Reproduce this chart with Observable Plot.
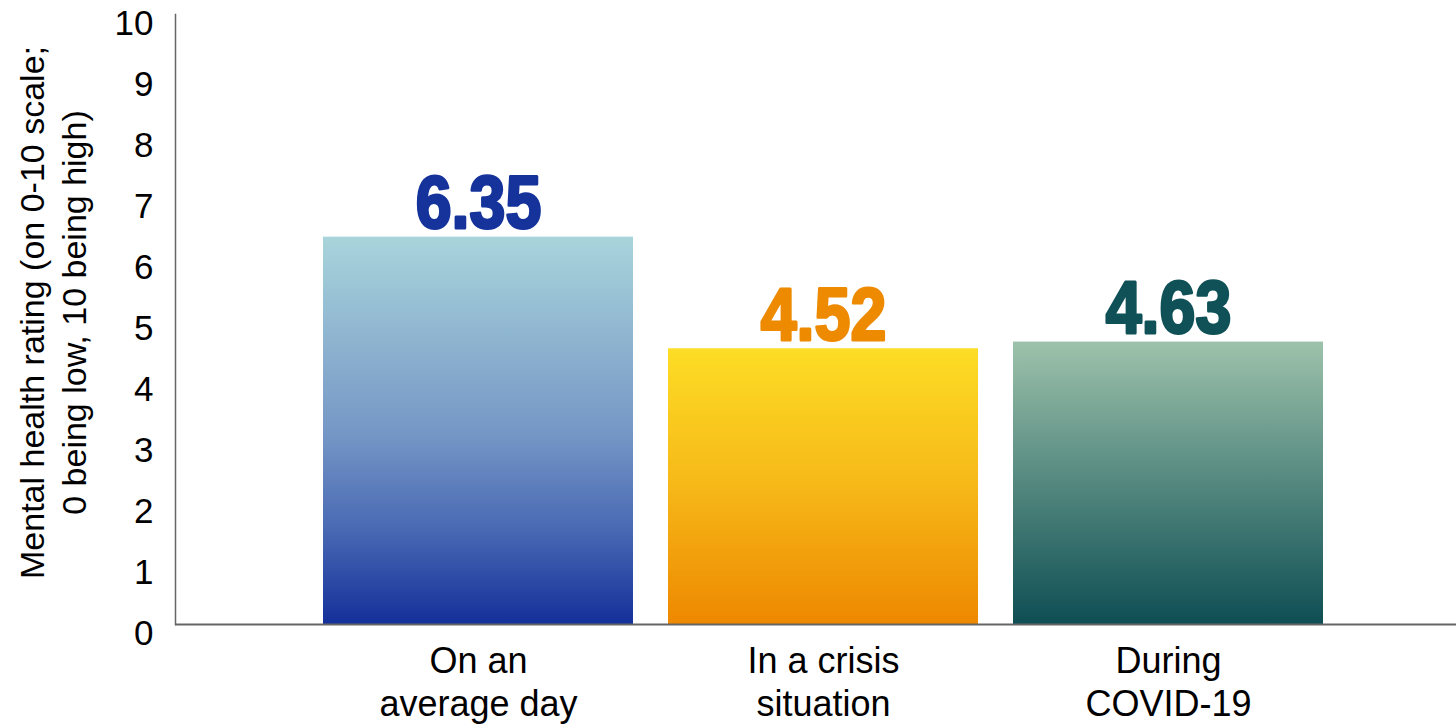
<!DOCTYPE html>
<html>
<head>
<meta charset="utf-8">
<script src="https://cdn.jsdelivr.net/npm/d3@7"></script>
<script src="https://cdn.jsdelivr.net/npm/@observablehq/plot@0.6"></script>
<style>
  html, body { margin: 0; padding: 0; background: #fff; }
</style>
</head>
<body>
<div id="chart"></div>
<script>
// ---- data ----
const categories = ["On an\naverage day", "In a crisis\nsituation", "During\nCOVID-19"];
const values = [6.35, 4.52, 4.63];
const labelColors = ["#15339b", "#ee8a00", "#0f5157"];
const gradientStops = [
  [[0, "#a9d4db"], [0.5, "#7698c6"], [0.75, "#4a6ab4"], [1, "#14309a"]],
  [[0, "#fddd25"], [0.5, "#f6b818"], [1, "#ee8800"]],
  [[0, "#9dc2ab"], [0.5, "#54887f"], [1, "#0e4e54"]]
];
const yTicks = [0, 1, 2, 3, 4, 5, 6, 7, 8, 9, 10];
const yTitle = "Mental health rating (on 0-10 scale;\n0 being low, 10 being high)";

const data = categories.map((c, i) => ({
  category: c,
  value: values[i],
  fill: `url(#barGrad${i})`,
  color: labelColors[i]
}));

// gradient definitions
const defs = () => {
  const d = d3.create("svg:defs");
  gradientStops.forEach((stops, i) => {
    const g = d.append("linearGradient")
      .attr("id", `barGrad${i}`)
      .attr("x1", 0).attr("y1", 0).attr("x2", 0).attr("y2", 1);
    stops.forEach(([o, c]) => g.append("stop").attr("offset", o).attr("stop-color", c));
  });
  return d.node();
};

const chart = Plot.plot({
  width: 1456,
  height: 725,
  marginLeft: 175,
  marginRight: 0,
  marginTop: 14,
  marginBottom: 101,
  style: { fontFamily: "'Liberation Sans', Arial, sans-serif", background: "#fff", color: "#000", overflow: "visible" },
  x: { domain: categories, range: [322, 1324], paddingInner: 0.1013, paddingOuter: 0, axis: null },
  y: { domain: [0, 10], axis: null },
  color: { type: "identity" },
  marks: [
    defs,
    Plot.barY(data, { x: "category", y: "value", fill: "fill" }),
    Plot.ruleY([0], { stroke: "#666", strokeWidth: 2 }),
    Plot.frame({ anchor: "left", stroke: "#666", strokeWidth: 1.5 }),
    Plot.axisY({ ticks: yTicks, tickSize: 0, tickPadding: 22, fontSize: 35, dy: 9, tickFormat: d => String(d), fill: "#000", label: null }),
    Plot.text(data, { x: "category", frameAnchor: "bottom", text: "category", lineAnchor: "top", dy: 18, fontSize: 36, lineHeight: 1.2, fill: "#000" }),
    Plot.text(data, {
      x: "category", y: "value", text: d => d.value.toFixed(2),
      fill: "color", stroke: "color", strokeWidth: 3, strokeLinejoin: "round",
      lineAnchor: "bottom", dy: -9, fontSize: 75,
      fontFamily: "'Liberation Sans', Arial, sans-serif", fontWeight: "bold",
      className: "barlabel"
    }),
    Plot.text([yTitle], {
      frameAnchor: "left", rotate: -90, textAnchor: "middle", lineAnchor: "middle",
      lineHeight: 1.24, fontSize: 34, dx: -124, dy: -7, fill: "#000"
    })
  ]
});
// condense the heavy value labels horizontally
d3.select(chart).selectAll(".barlabel text").each(function () {
  const t = this.getAttribute("transform") || "";
  this.setAttribute("transform", `${t} scale(0.86,1)`);
});
document.getElementById("chart").appendChild(chart);
</script>
</body>
</html>
